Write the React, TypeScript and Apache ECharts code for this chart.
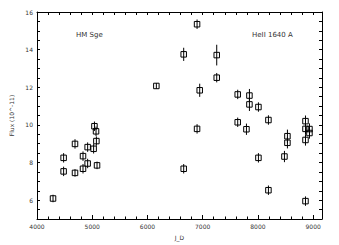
import React, { useEffect, useRef } from "react";
import * as echarts from "echarts";

const jd = [4290, 4482, 4482, 4688, 4688, 4833, 4833, 4917, 4917, 5025, 5040, 5069, 5075, 5087,
  6161, 6656, 6656, 6898, 6898, 6946, 7254, 7254, 7634, 7634, 7792, 7846, 7846, 8009, 8009,
  8190, 8190, 8480, 8534, 8534, 8861, 8861, 8861, 8861, 8933, 8933];
const flux = [6.09, 7.53, 8.25, 8.99, 7.45, 8.34, 7.67, 8.82, 7.95, 8.73, 9.93, 9.66, 9.14, 7.85,
  12.07, 13.75, 7.67, 15.35, 9.79, 11.84, 13.71, 12.51, 11.62, 10.14, 9.77, 11.56, 11.09, 10.95, 8.25,
  10.26, 6.53, 8.32, 9.4, 9.05, 10.2, 9.79, 9.2, 5.95, 9.78, 9.57];
const fluxErr = [0.2, 0.25, 0.25, 0.25, 0.2, 0.25, 0.25, 0.25, 0.25, 0.25, 0.25, 0.25, 0.25, 0.2,
  0.15, 0.35, 0.25, 0.25, 0.25, 0.35, 0.55, 0.25, 0.25, 0.25, 0.3, 0.35, 0.35, 0.25, 0.25,
  0.25, 0.25, 0.3, 0.35, 0.3, 0.3, 0.3, 0.3, 0.25, 0.3, 0.3];

const xMin = 4000;
const xMax = 9160;
const yMin = 5;
const yMax = 16;
const objectLabel = "HM Sge";
const lineLabel = "HeII 1640 A";
const xName = "J_D";
const yName = "Flux (10^-11)";

export default function App() {
  const ref = useRef<HTMLDivElement>(null);
  useEffect(() => {
    if (!ref.current) return;
    const chart = echarts.init(ref.current, null, { renderer: "svg" });
    const font = "DejaVu Sans";
    const txt = "#333";
    const data = jd.map((x, i) => [x, flux[i], fluxErr[i]]);
    const axisLine = { show: true, lineStyle: { color: "#000", width: 1 } };
    chart.setOption({
      animation: false,
      backgroundColor: "#fff",
      grid: { left: 37, right: 17, top: 12, bottom: 25 },
      xAxis: [
        {
          type: "value", position: "bottom", min: xMin, max: xMax, interval: 1000,
          axisLine, splitLine: { show: false },
          axisTick: { show: true, inside: true, length: 4, lineStyle: { color: "#000" } },
          axisLabel: {
            fontSize: 6, color: txt, fontFamily: font, margin: 4,
            formatter: (v: number) => (v % 1000 === 0 ? String(v) : ""),
          },
          name: xName, nameLocation: "middle", nameGap: 15,
          nameTextStyle: { fontSize: 6, color: txt, fontFamily: font },
        },
        {
          type: "value", position: "bottom", min: xMin, max: xMax, interval: 200,
          axisLine: { show: false }, splitLine: { show: false },
          axisTick: { show: true, inside: true, length: 2.5, lineStyle: { color: "#000" } },
          axisLabel: { show: false },
        },
        {
          type: "value", position: "top", min: xMin, max: xMax, interval: 200,
          axisLine, splitLine: { show: false },
          axisTick: { show: true, inside: true, length: 3, lineStyle: { color: "#000" } },
          axisLabel: { show: false },
        },
      ],
      yAxis: [
        {
          type: "value", position: "left", min: yMin, max: yMax, interval: 0.5,
          axisLine, splitLine: { show: false },
          axisTick: { show: true, inside: true, length: 3, lineStyle: { color: "#000" } },
          axisLabel: {
            fontSize: 6, color: txt, fontFamily: font, margin: 4,
            formatter: (v: number) => (Math.abs(v % 2) < 1e-9 ? String(v) : ""),
          },
          name: yName, nameLocation: "middle", nameGap: 20, nameRotate: 90,
          nameTextStyle: { fontSize: 6, color: txt, fontFamily: font },
        },
        {
          type: "value", position: "right", min: yMin, max: yMax, interval: 0.5,
          axisLine, splitLine: { show: false },
          axisTick: { show: true, inside: true, length: 3, lineStyle: { color: "#000" } },
          axisLabel: { show: false },
        },
      ],
      graphic: [
        { type: "text", left: 76, top: 31, style: { text: objectLabel, fontSize: 7, fill: txt, fontFamily: font } },
        { type: "text", left: 252, top: 31, style: { text: lineLabel, fontSize: 7, fill: txt, fontFamily: font } },
      ],
      series: [
        {
          type: "custom",
          xAxisIndex: 0,
          yAxisIndex: 0,
          data,
          renderItem: (params: any, api: any) => {
            const x = api.value(0);
            const y = api.value(1);
            const e = api.value(2);
            const c = api.coord([x, y]);
            const lo = api.coord([x, y - e]);
            const hi = api.coord([x, y + e]);
            return {
              type: "group",
              children: [
                {
                  type: "line",
                  shape: { x1: c[0], y1: lo[1], x2: c[0], y2: hi[1] },
                  style: { stroke: "#000", lineWidth: 1 },
                },
                {
                  type: "rect",
                  shape: { x: c[0] - 2.75, y: c[1] - 2.75, width: 5.5, height: 5.5 },
                  style: { fill: "none", stroke: "#000", lineWidth: 1 },
                },
              ],
            };
          },
        },
      ],
    });
    return () => chart.dispose();
  }, []);
  return (
    <div
      ref={ref}
      style={{ position: "fixed", left: 0, top: 0, width: 339, height: 245 }}
    />
  );
}
